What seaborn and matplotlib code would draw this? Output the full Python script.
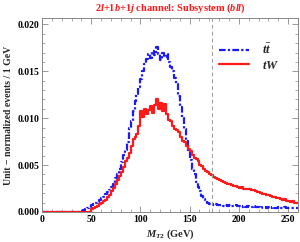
import numpy as np
import pandas as pd
import matplotlib
matplotlib.use('Agg')
import matplotlib.pyplot as plt
import seaborn as sns

# 2 GeV bins from 0 to 260
bin_edges = list(range(0, 262, 2))

ttbar = [0] * 20 + [
    0.0001, 0.0002, 0.0003, 0.0004, 0.0005, 0.0007, 0.0008, 0.0010, 0.0011, 0.0013,
    0.0015, 0.0016, 0.0019, 0.0021, 0.0023, 0.0027, 0.0030, 0.0036, 0.0041, 0.0046,
    0.0053, 0.0061, 0.0066, 0.0075, 0.0090, 0.0097, 0.0108, 0.0118, 0.0126, 0.0133,
    0.0142, 0.0150, 0.0158, 0.0163, 0.0168, 0.0164, 0.0172, 0.0167, 0.0176, 0.0169,
    0.0162, 0.0170, 0.0165, 0.0168, 0.0160, 0.0155, 0.0150, 0.0143, 0.0136, 0.0124,
    0.0112, 0.0100, 0.0088, 0.0076, 0.0064, 0.0055, 0.0046, 0.0040, 0.0032, 0.0027,
    0.0022, 0.0017, 0.0014, 0.0012, 0.0010, 0.0009, 0.0008, 0.0007, 0.0008, 0.0007,
    0.0007, 0.0007, 0.0006, 0.0007, 0.0006, 0.0007, 0.0006, 0.0006, 0.0007, 0.0006,
    0.0006, 0.0005, 0.0006, 0.0005, 0.0006, 0.0005, 0.0005, 0.0006, 0.0005, 0.0005,
    0.0005, 0.0004, 0.0005, 0.0005, 0.0004, 0.0005, 0.0004, 0.0005, 0.0004, 0.0004,
    0.0005, 0.0004, 0.0004, 0.0005, 0.0004, 0.0004, 0.0004, 0.0004, 0.0004, 0.0004,
]

tw = [0] * 25 + [
    0.0003, 0.0004, 0.0005, 0.0006, 0.0008,
    0.0010, 0.0012, 0.0013, 0.0016, 0.0018, 0.0022, 0.0026, 0.0030, 0.0034, 0.0038,
    0.0043, 0.0048, 0.0054, 0.0058, 0.0063, 0.0070, 0.0078, 0.0080, 0.0083, 0.0092,
    0.0108, 0.0101, 0.0110, 0.0104, 0.0109, 0.0113, 0.0106, 0.0114, 0.0121, 0.0110,
    0.0116, 0.0108, 0.0115, 0.0104, 0.0098, 0.0097, 0.0092, 0.0089, 0.0087, 0.0085,
    0.0080, 0.0076, 0.0075, 0.0070, 0.0067, 0.0065, 0.0061, 0.0058, 0.0057, 0.0054,
    0.0050, 0.0049, 0.0046, 0.0044, 0.0043, 0.0040, 0.0039, 0.0037, 0.0036, 0.0035,
    0.0034, 0.0033, 0.0032, 0.0031, 0.0030, 0.0030, 0.0029, 0.0028, 0.0028, 0.0027,
    0.0026, 0.0027, 0.0025, 0.0025, 0.0024, 0.0024, 0.0023, 0.0023, 0.0022, 0.0021,
    0.0021, 0.0020, 0.0019, 0.0019, 0.0018, 0.0018, 0.0017, 0.0016, 0.0016, 0.0015,
    0.0015, 0.0014, 0.0013, 0.0014, 0.0012, 0.0012, 0.0011, 0.0012, 0.0010, 0.0010,
]

top_mass = 173

# step data: repeat the last value so the final bin gets drawn
df = pd.DataFrame({
    'mt2': bin_edges,
    'ttbar': ttbar + [ttbar[-1]],
    'tw': tw + [tw[-1]],
})

sns.set_style('ticks')
plt.rcParams['font.family'] = ['Liberation Serif', 'DejaVu Serif']
plt.rcParams['mathtext.fontset'] = 'custom'
plt.rcParams['mathtext.rm'] = 'Liberation Serif:bold'
plt.rcParams['mathtext.it'] = 'Liberation Serif:italic:bold'
plt.rcParams['mathtext.bf'] = 'Liberation Serif:bold'

fig = plt.figure(figsize=(3.0, 2.42), dpi=100)
ax = fig.add_axes([0.14, 0.124, 0.853, 0.802])

sns.lineplot(data=df, x='mt2', y='ttbar', ax=ax, drawstyle='steps-post',
             color='#1a1aff', linewidth=1.6, dashes=False,
             linestyle=(0, (3, 1, 1, 1)), label=r'$t\bar{t}$')
sns.lineplot(data=df, x='mt2', y='tw', ax=ax, drawstyle='steps-post',
             color='#ff1a1a', linewidth=1.6, label=r'$tW$')

ax.axvline(top_mass, color='#999999', linestyle=(0, (4, 3)), linewidth=0.7)

ax.set_xlim(0, 260)
ax.set_ylim(0, 0.0207)
ax.set_xticks([0, 50, 100, 150, 200, 250])
ax.set_xticks(range(0, 261, 10), minor=True)
ax.set_xticklabels(['0', '50', '100', '150', '200', '250'], fontweight='bold')
ax.set_yticks([0, 0.005, 0.010, 0.015, 0.020])
ax.set_yticks(np.arange(0, 0.0207, 0.001), minor=True)
ax.set_yticklabels(['0.000', '0.005', '0.010', '0.015', '0.020'], fontweight='bold')
ax.tick_params(which='both', direction='in', top=True, right=True,
               labelsize=7, colors='#888888', labelcolor='black', pad=2)
ax.tick_params(which='major', length=4, width=0.6)
ax.tick_params(which='minor', length=2, width=0.5)
for s in ax.spines.values():
    s.set_color('#888888')
    s.set_linewidth(0.7)

ax.set_xlabel(r'$M_{T2}$ (GeV)', fontsize=7.5, fontweight='bold', labelpad=3)
ax.set_ylabel('Unit \u2212 normalized events / 1 GeV', fontsize=7,
              fontweight='bold', labelpad=3)
ax.set_title(r'$2l$+1$b$+1$j$ channel: Subsystem ($bll$)', fontsize=7.5,
             fontweight='bold', color='#ff1a1a', pad=5)

ax.legend(loc='upper right', frameon=False, fontsize=9, handlelength=2.4,
          bbox_to_anchor=(0.97, 0.93), labelspacing=0.2, handletextpad=1.0)

fig.savefig('out.png', dpi=100)
